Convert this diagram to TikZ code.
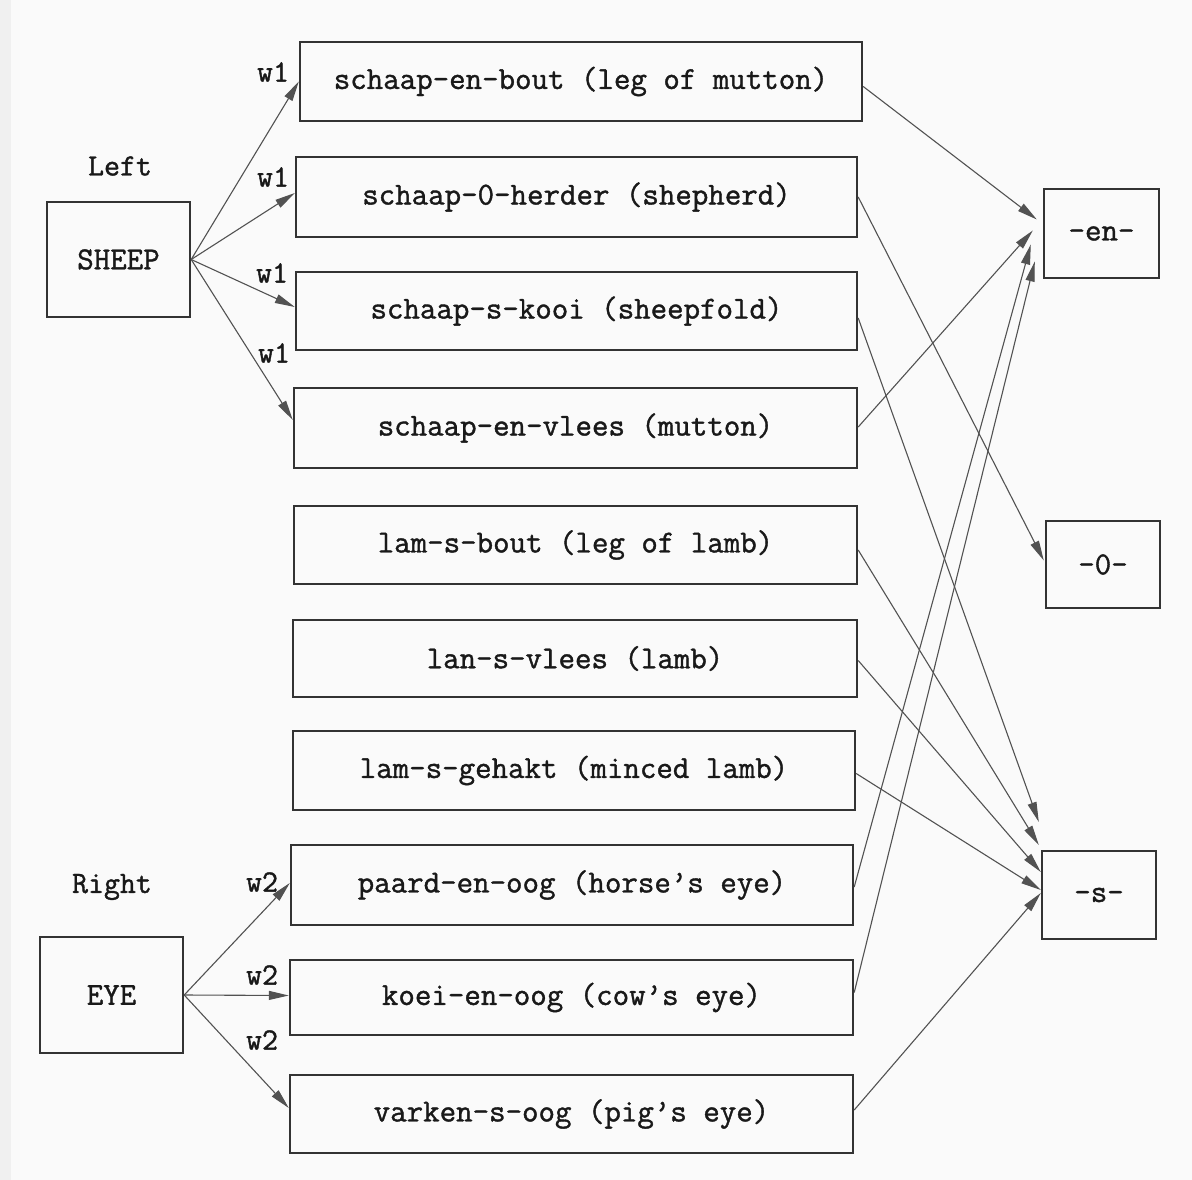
\documentclass[tikz,border=0pt]{standalone}
\usepackage{fontspec}
\newfontfamily\diagtt[FakeBold=1.2]{Latin Modern Mono}
\usetikzlibrary{arrows.meta}
\begin{document}
\begin{tikzpicture}[x=1pt,y=-1pt,
  box/.style={draw=black!80,line width=2.4pt,inner sep=0pt,font=\diagtt\fontsize{32}{36}\selectfont,text=black!90},
  lab/.style={font=\diagtt\fontsize{31}{36}\selectfont,text=black!90,inner sep=0pt},
  arr/.style={draw=black!68,line width=1.1pt,-{Triangle[length=20pt,width=9pt]}}]
\fill[black!2] (0,0) rectangle (1192,1180);
\fill[blue!4!black!6] (0,0) rectangle (11,1180);
\useasboundingbox (0,0) rectangle (1192,1180);
% left
\node[lab] (left) at (120,166) {Left};
\node[lab] (right) at (112,887) {Right};
\node[box,minimum width=143pt,minimum height=115pt] (sheep) at (118.5,259.5) {SHEEP};
\node[box,minimum width=143pt,minimum height=116pt] (eye) at (111.5,995) {EYE};
% middle
\node[box,minimum width=562pt,minimum height=79pt] (b1) at (581,81.5) {schaap-en-bout (leg of mutton)};
\node[box,minimum width=561pt,minimum height=80pt] (b2) at (576.5,197) {schaap-0-herder (shepherd)};
\node[box,minimum width=561pt,minimum height=78pt] (b3) at (576.5,311) {schaap-s-kooi (sheepfold)};
\node[box,minimum width=563pt,minimum height=80pt] (b4) at (575.5,428) {schaap-en-vlees (mutton)};
\node[box,minimum width=563pt,minimum height=78pt] (b5) at (575.5,545) {lam-s-bout (leg of lamb)};
\node[box,minimum width=564pt,minimum height=77pt] (b6) at (575,658.5) {lan-s-vlees (lamb)};
\node[box,minimum width=562pt,minimum height=79pt] (b7) at (574,770.5) {lam-s-gehakt (minced lamb)};
\node[box,minimum width=562pt,minimum height=80pt] (b8) at (572,885) {paard-en-oog (horse’s eye)};
\node[box,minimum width=563pt,minimum height=75pt] (b9) at (571.5,997.5) {koei-en-oog (cow’s eye)};
\node[box,minimum width=563pt,minimum height=78pt] (b10) at (571.5,1114) {varken-s-oog (pig’s eye)};
% right
\node[box,minimum width=115pt,minimum height=89pt] (en) at (1101.5,233.5) {-en-};
\node[box,minimum width=114pt,minimum height=87pt] (zero) at (1103,564.5) {-0-};
\node[box,minimum width=114pt,minimum height=88pt] (s) at (1099,895) {-s-};
% weight labels
\node[lab] (w1a) at (273,72) {w1};
\node[lab] (w1b) at (273,177) {w1};
\node[lab] (w1c) at (272,273) {w1};
\node[lab] (w1d) at (274,353) {w1};
\node[lab] (w2a) at (262,882) {w2};
\node[lab] (w2b) at (262,975) {w2};
\node[lab] (w2c) at (262,1040) {w2};
% left arrows
\draw[arr] (sheep.east) -- (b1.west);
\draw[arr] (sheep.east) -- ([yshift=4pt]b2.west);
\draw[arr] (sheep.east) -- ([yshift=4pt]b3.west);
\draw[arr] (sheep.east) -- ([yshift=8pt]b4.west);
\draw[arr] (eye.east) -- ([yshift=2pt]b8.west);
\draw[arr] (eye.east) -- ([yshift=2pt]b9.west);
\draw[arr] (eye.east) -- ([yshift=6pt]b10.west);
% right arrows
\draw[arr] ([yshift=-5pt]b1.east) -- ([xshift=-6pt,yshift=14pt]en.west);
\draw[arr] ([yshift=1pt]b4.east) -- ([xshift=-10pt,yshift=3pt]en.west);
\draw[arr] ([yshift=-2pt]b8.east) -- ([xshift=-12pt,yshift=-11pt]en.west);
\draw[arr] ([yshift=5pt]b9.east) -- ([xshift=-8pt,yshift=-28pt]en.west);
\draw[arr] (b2.east) -- ([xshift=-1pt,yshift=4pt]zero.west);
\draw[arr] ([yshift=-7pt]b3.east) -- ([xshift=-2pt,yshift=73pt]s.west);
\draw[arr] ([yshift=-5pt]b5.east) -- ([xshift=-2pt,yshift=50pt]s.west);
\draw[arr] ([yshift=-2pt]b6.east) -- ([yshift=23pt]s.west);
\draw[arr] ([yshift=-3pt]b7.east) -- ([yshift=5pt]s.west);
\draw[arr] ([yshift=4pt]b10.east) -- ([yshift=2pt]s.west);
\end{tikzpicture}
\end{document}
